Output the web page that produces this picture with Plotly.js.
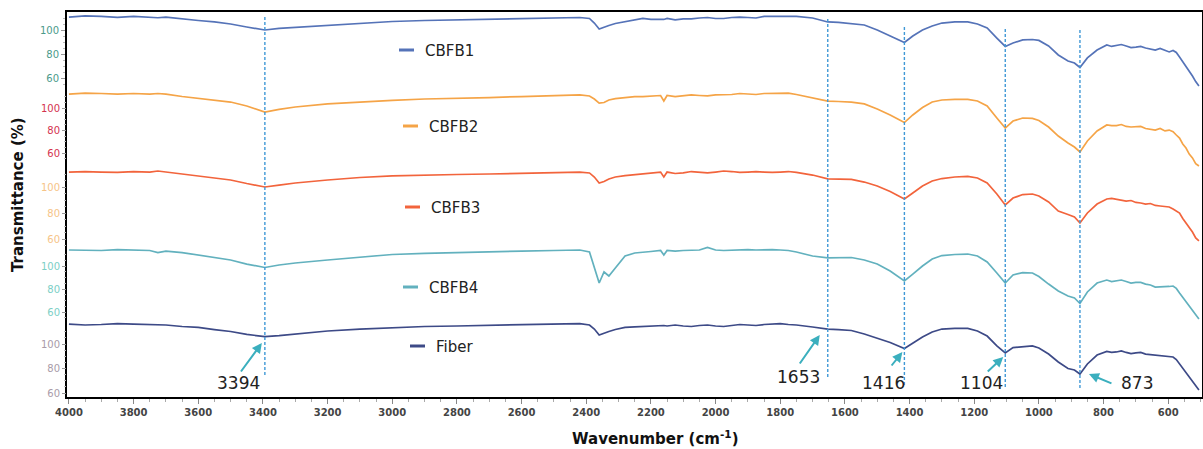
<!DOCTYPE html>
<html><head><meta charset="utf-8">
<script src="https://cdn.plot.ly/plotly-3.0.1.min.js"></script>
<style>html,body{margin:0;padding:0;background:#fff;}#chart{width:1203px;height:449px;}</style>
</head><body><div id="chart"></div>
<script>
// ---------------- DATA ----------------
const wavenumber = [4000,3950,3900,3850,3800,3750,3725,3700,3650,3600,3550,3500,3450,3394,3350,3300,3200,3100,3000,2900,2800,2700,2600,2500,2420,2390,2375,2360,2345,2330,2310,2280,2250,2225,2200,2170,2160,2150,2125,2100,2075,2050,2025,2000,1975,1950,1925,1900,1875,1850,1825,1800,1775,1750,1700,1653,1620,1580,1540,1500,1460,1416,1390,1360,1330,1300,1260,1220,1190,1160,1130,1104,1080,1050,1020,1000,970,940,910,890,873,850,820,790,775,760,745,730,715,700,685,670,655,640,625,610,597,585,575,565,555,545,535,525,515,505];

const cbfb1 = [110.8,111.7,111.3,110.6,111.3,110.8,110.2,110.8,109.2,107.9,106.7,105,102.5,100,101.3,102.1,104.2,105.8,107.1,107.9,108.3,109.2,109.6,110,110.4,109.6,105.8,100.8,102.5,103.8,105.4,106.7,107.9,109.6,108.8,109.2,108.8,109.6,108.4,109.2,109.2,110,110.4,109.6,109.6,110.4,110.8,110.4,110,111.3,111.3,111.7,111.7,111.3,110,106.7,106.3,105,104.2,100,95,89.6,95,100,103.3,105.8,106.7,106.7,105,101.7,93.3,86.3,89.2,91.7,92.1,91.3,86.7,79.2,74.2,72.5,68.8,76.7,83.3,87.5,86.3,87.1,87.9,86.7,85.4,85.8,86.3,85,84.2,83.3,84.6,83.3,81.7,82.9,81.3,77.5,73.8,70,66,61.7,57,53.3];

const cbfb2 = [112.4,113.3,112.9,112.4,112.9,112.4,112.9,112.4,110.2,108.4,107.1,105.3,101.8,96.4,98.7,100.9,103.6,105.3,106.7,108,108.4,109.3,110.2,110.7,111.6,110.7,108,104.4,104.9,107.1,108.4,109.3,110.2,110.2,110.7,111.1,106.2,111.1,110.2,110.7,111.6,111.1,110.7,111.6,111.6,112,112.9,112.4,112,112.9,112.9,112.9,113.3,112,108.9,106.2,105.8,105.3,103.6,99.1,93.8,87.1,93.8,100.4,105.3,107.1,107.6,107.6,106.2,101.8,91.1,82.2,88.4,91.1,90.7,88.9,83.1,75.1,68.9,65.3,60.9,70.7,79.6,84.9,84.4,84.4,85.3,83.6,83.1,83.1,83.6,81.8,81.3,80.4,81.8,79.6,80.4,79,76,73.3,68,64.4,59,55.6,50.5,48.4];

const cbfb3 = [111.5,111.9,111.5,111.2,111.9,111.5,112.3,111.5,110.4,108.5,106.9,105.4,102.7,100,101.5,103.1,105.4,107.3,108.5,109.2,109.6,110,110.4,110.8,111.5,110.8,107.7,103.1,104.2,106.2,107.7,108.8,109.6,110,110.8,111.5,107.7,111.5,110.4,110.8,111.9,111.2,110.8,111.5,112.3,111.9,111.2,111.5,111.9,111.5,111.2,111.5,111.9,111.2,109.2,106.2,106.2,105.8,103.8,100.8,96.5,90.8,95.4,100.8,104.6,106.5,107.7,108.1,106.9,103.1,94.6,86.2,91.5,94.2,94.6,93.1,88.5,81.5,78.8,76.9,72.3,80,86.9,90.8,91.2,90.4,89.6,89.2,89.6,88.1,87.7,86.9,87.3,85.8,85.4,85,84.6,83.1,81.5,80,75.8,72.3,69.2,65.4,60.8,58.5];

const cbfb4 = [113.9,113.5,113.5,114.3,113.9,113.5,111.6,113,111.7,109.6,107.8,105.2,101.7,98.7,100.9,102.6,105.2,107.8,110,110.9,111.7,112.6,113,113.5,113.9,112.2,98.3,85.2,94.8,91.3,98.3,108.7,111.3,112.2,112.6,113.5,109.6,113.5,113,113.5,113.9,113.9,116.2,113.9,113.5,113.9,114.3,114.3,113.9,114.3,114.3,113.9,113.5,112.2,108.7,107,107.4,107.4,105.2,101.7,95.7,87,93,100,106.1,109.1,110,110.4,108.7,103.5,93.9,85.2,92.2,94.3,93.9,90.9,84.3,78.3,73.9,72.2,67.4,77.4,85.2,87.8,86.5,87.4,87.8,86.5,85.2,85.7,85.7,84.3,83.5,81.7,81.7,81.7,82.2,82.6,80.5,76.5,72.6,68.7,64.8,60.9,57.4,53.9];

const fiber = [116.3,115.5,115.9,116.7,116.3,115.9,115.1,115.5,114.3,113.5,111.8,110.2,107.8,106.1,106.9,108.2,110.6,112.2,113.5,114.3,114.7,115.1,115.5,115.9,116.7,115.5,112.2,107.3,109,110.2,111.8,113.5,113.9,114.3,114.7,114.7,115.1,114.7,115.5,114.7,114.3,115.1,115.5,114.7,114.3,115.1,115.9,115.5,115.1,115.9,116.3,116.7,115.9,115.5,113.9,112.2,111.8,111,108.2,104.9,101.2,96.3,100.8,105.7,109.8,112.2,112.7,112.7,110.6,106.5,98.4,92.7,97.1,98,98.4,96.7,91.8,85.3,80,78.8,75.5,83.7,91,93.9,93.1,93.5,94.3,93.1,92.2,92.7,93.1,91.8,91.4,91,90.6,90.2,89.8,89.4,87.3,83.7,80.4,77.1,73.1,69,65.7,62.4];

const seriesNames = ['CBFB1','CBFB2','CBFB3','CBFB4','Fiber'];
const seriesValues = [cbfb1, cbfb2, cbfb3, cbfb4, fiber];
const yTickVals = [60, 80, 100];
const yMinorVals = [55, 65, 70, 75, 85, 90, 95, 105, 110];
const peaks = [3394, 1653, 1416, 1104, 873];
const peakLabels = ['3394', '1653', '1416', '1104', '873'];

// ---------------- STYLE / LAYOUT ----------------
const W = 1203, H = 449;
const PL = 67, PR = 1202, PT = 12, PB = 397;
const lineColors = ['#5573b8', '#f5a447', '#f2643c', '#62b1be', '#3d4a87'];
const tickColors = ['#4b9a8b', '#d4334f', '#f6c488', '#7ccfc6', '#a99ba9'];
const pix100 = [30, 108, 187, 266, 344];
const pix60 = [78, 153, 239, 312, 393];

const fx = px => (px - PL) / (PR - PL);
const fy = py => (PB - py) / (PB - PT);

const traces = seriesValues.map((vals, i) => ({
  x: wavenumber, y: vals, type: 'scatter', mode: 'lines', name: seriesNames[i],
  yaxis: i === 0 ? 'y' : 'y' + (i + 1),
  line: {color: lineColors[i], width: 1.7},
  showlegend: false, hoverinfo: 'skip'
}));

const layout = {
  width: W, height: H,
  margin: {l: PL, r: W - PR, t: PT, b: H - PB, pad: 0},
  paper_bgcolor: '#fff', plot_bgcolor: '#fff',
  font: {family: 'DejaVu Sans', color: '#222'},
  showlegend: false,
  xaxis: {
    range: [4006, 495.5], tickmode: 'linear', tick0: 0, dtick: 200,
    ticks: 'outside', ticklen: 5, tickcolor: '#888', tickwidth: 1,
    minor: {dtick: 50, tick0: 0, ticks: 'outside', ticklen: 3, tickcolor: '#aaa'},
    showline: true, mirror: true, linecolor: '#000', linewidth: 2,
    showgrid: false, zeroline: false,
    tickfont: {size: 10, color: '#444', weight: 'bold'}
  },
  shapes: [], annotations: []
};

seriesNames.forEach((n, i) => {
  const s = (pix60[i] - pix100[i]) / 40;
  const top = 100 + (pix100[i] - PT) / s;
  const bot = 60 - (PB - pix60[i]) / s;
  const ax = {
    range: [bot, top], tickmode: 'array', tickvals: yTickVals,
    ticks: 'outside', ticklen: 4, tickcolor: '#999', tickwidth: 1,
    minor: {tickmode: 'array', tickvals: yMinorVals, ticks: 'outside', ticklen: 2, tickcolor: '#bbb'},
    tickfont: {size: 10, color: tickColors[i]},
    showgrid: false, zeroline: false, anchor: 'x', side: 'left'
  };
  if (i === 0) { ax.showline = true; ax.mirror = true; ax.linecolor = '#000'; ax.linewidth = 2; }
  else { ax.overlaying = 'y'; ax.showline = false; }
  layout[i === 0 ? 'yaxis' : 'yaxis' + (i + 1)] = ax;
});

// peak guide lines
const guideTop = [15, 18, 25, 27, 28];
const guideBot = [375, 377, 385, 387, 388];
peaks.forEach((p, i) => {
  layout.shapes.push({type: 'line', xref: 'x', yref: 'paper', x0: p, x1: p,
    y0: fy(guideBot[i]), y1: fy(guideTop[i]),
    line: {color: '#3f98d6', width: 1.4, dash: '3px,2px'}});
});

// peak arrows and labels
const arrowHeadY = [343, 335, 352, 357, 374];
const arrowShift = [-3, -8, -2, -2, 9];
const arrowAX = [-22, -21, -12, -17, 24];
const arrowAY = [30, 30, 15, 16, 10];
const labelY = [383, 377, 383, 383, 383];
const labelShift = [-26, -29, -21, -24, 57];
peaks.forEach((p, i) => {
  layout.annotations.push({x: p, y: fy(arrowHeadY[i]), xref: 'x', yref: 'paper', xshift: arrowShift[i],
    text: '', showarrow: true, ax: arrowAX[i], ay: arrowAY[i], arrowhead: 2, arrowsize: 1,
    arrowwidth: 2, arrowcolor: '#3bafbe', standoff: 0, startstandoff: 0});
  layout.annotations.push({x: p, y: fy(labelY[i]), xref: 'x', yref: 'paper', xshift: labelShift[i],
    text: peakLabels[i], showarrow: false, xanchor: 'center', yanchor: 'middle',
    font: {family: 'DejaVu Sans', size: 17, color: '#222'}});
});

// in-plot legend (swatch + label)
const legSwX = [399, 403, 405, 403, 410];
const legY = [50, 126, 207, 287, 346];
seriesNames.forEach((n, i) => {
  layout.shapes.push({type: 'line', xref: 'paper', yref: 'paper',
    x0: fx(legSwX[i]), x1: fx(legSwX[i] + 15), y0: fy(legY[i]), y1: fy(legY[i]),
    line: {color: lineColors[i], width: 3}});
  layout.annotations.push({x: fx(legSwX[i] + 24), y: fy(legY[i] + 1), xref: 'paper', yref: 'paper',
    text: n, showarrow: false, xanchor: 'left', yanchor: 'middle',
    font: {family: 'DejaVu Sans', size: 15, color: '#222'}});
});

// axis titles
layout.annotations.push({x: fx(656), y: fy(438), xref: 'paper', yref: 'paper',
  text: 'Wavenumber (cm<sup>-1</sup>)', showarrow: false, xanchor: 'center', yanchor: 'middle',
  font: {family: 'DejaVu Sans', size: 15, color: '#111', weight: 'bold'}});
layout.annotations.push({x: fx(18), y: fy(195), xref: 'paper', yref: 'paper',
  text: 'Transmittance (%)', textangle: -90, showarrow: false, xanchor: 'center', yanchor: 'middle',
  font: {family: 'DejaVu Sans', size: 15, color: '#111', weight: 'bold'}});

Plotly.newPlot('chart', traces, layout, {staticPlot: true, displayModeBar: false});
</script>
</body></html>
